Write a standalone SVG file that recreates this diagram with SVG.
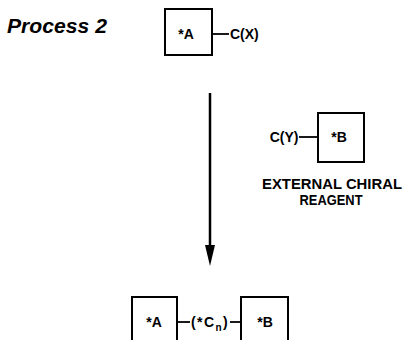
<svg xmlns="http://www.w3.org/2000/svg" width="406" height="340" viewBox="0 0 406 340">
<style>
text{font-family:"Liberation Sans",Arial,sans-serif;font-weight:bold;fill:#000}
.box{fill:none;stroke:#000;stroke-width:2}
.ln{stroke:#000;stroke-width:1.8;fill:none}
.lbl{font-size:14px}
.mid{text-anchor:middle}
</style>
<rect width="406" height="340" fill="#fff"/>
<text x="7" y="32.5" font-size="20" font-style="italic" textLength="100" lengthAdjust="spacingAndGlyphs">Process 2</text>
<g id="nodeA">
<rect class="box" x="165" y="9" width="47" height="46"/>
<text class="lbl mid" x="186" y="38.5">*A</text>
</g>
<g id="labelCX">
<text class="lbl" x="230" y="38.5">C(X)</text>
</g>
<g id="nodeB">
<rect class="box" x="318" y="113" width="46" height="49"/>
<text class="lbl mid" x="339" y="142">*B</text>
</g>
<g id="labelCY">
<text class="lbl" x="298.5" y="142" text-anchor="end">C(Y)</text>
</g>
<g id="reagentLabel">
<text class="mid" x="332" y="189" font-size="14" textLength="140" lengthAdjust="spacingAndGlyphs">EXTERNAL CHIRAL</text>
<text class="mid" x="331" y="205" font-size="14" textLength="63" lengthAdjust="spacingAndGlyphs">REAGENT</text>
</g>
<g id="productA">
<rect class="box" x="132" y="297" width="45" height="50"/>
<text class="lbl mid" x="154" y="327">*A</text>
</g>
<g id="productB">
<rect class="box" x="241" y="297" width="47" height="50"/>
<text class="lbl mid" x="265" y="327">*B</text>
</g>
<g id="productLink">
<text x="191" y="327" font-size="14" letter-spacing="1.4">(*C<tspan font-size="10" dy="3.5">n</tspan><tspan dy="-3.5">)</tspan></text>
</g>
<g id="connectors">
<line class="ln" x1="212" y1="34" x2="229" y2="34"/>
<line class="ln" x1="299" y1="137" x2="318" y2="137"/>
<line class="ln" x1="177" y1="322" x2="190" y2="322"/>
<line class="ln" x1="230" y1="322" x2="241" y2="322"/>
<line x1="210" y1="93" x2="210" y2="250" stroke="#000" stroke-width="2.5"/>
<polygon points="205,245 215,245 210,266" fill="#000"/>
</g>
</svg>
